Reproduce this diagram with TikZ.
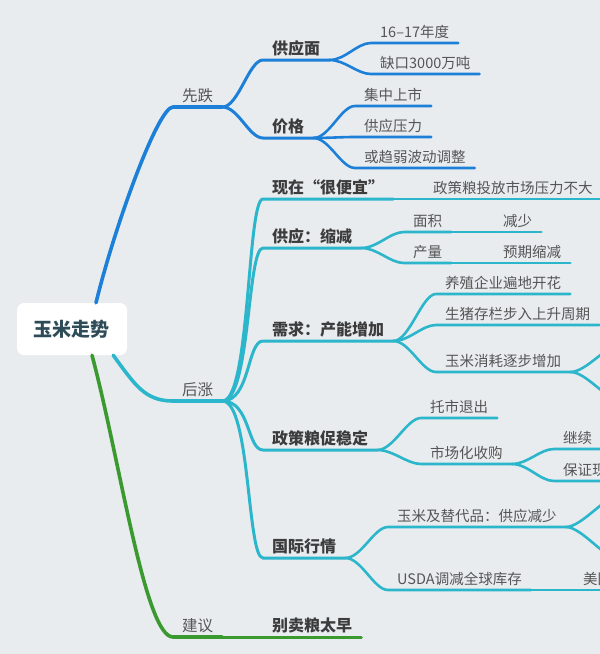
\documentclass[tikz,border=0pt]{standalone}
\usepackage{fontspec}
\setmainfont{Noto Sans CJK SC}
\usetikzlibrary{calc}

\definecolor{bgcol}{HTML}{E8ECEF}
\definecolor{bluebr}{HTML}{1D80D8}
\definecolor{cyanbr}{HTML}{2BB6CB}
\definecolor{greenbr}{HTML}{3B9A2F}
\definecolor{txtcol}{HTML}{555555}
\definecolor{boldcol}{HTML}{3C3C3C}
\definecolor{rootcol}{HTML}{2E4B58}

\tikzset{
  rootbox/.style={fill=white, rounded corners=7pt, minimum width=110pt,
    minimum height=52pt, text=rootcol, font=\fontsize{19}{19}\selectfont\bfseries},
  topic/.style={anchor=south west, inner xsep=9pt, inner ysep=4pt,
    text=txtcol, font=\fontsize{15.5}{16}\selectfont},
  sub/.style={topic, text=boldcol, font=\fontsize{16}{16}\selectfont\bfseries},
  leaf/.style={anchor=south west, inner xsep=9pt, inner ysep=4pt,
    text=txtcol, font=\fontsize{14.5}{15}\selectfont},
  trunk/.style={line width=3.6pt, line cap=round},
  lvone/.style={line width=3pt, line cap=round},
  lvtwo/.style={line width=2.6pt, line cap=round},
}

\begin{document}
\begin{tikzpicture}[x=1pt,y=-1pt]
\useasboundingbox (0,0) rectangle (600,654);
\fill[bgcol] (0,0) rectangle (600,654);
\clip (0,0) rectangle (600,654);

\node[rootbox] (root) at (72,329) {玉米走势};

% main branches
\node[topic] (xd) at (173,107) {先跌};
\node[topic] (hz) at (173,401) {后涨};
\node[topic] (jy) at (173,637) {建议};

\node[sub] (gym) at (263,60) {供应面};
\node[sub] (jg) at (263,138) {价格};
\node[sub] (xz) at (263,199) {现在“很便宜”};
\node[sub] (gs) at (263,248) {供应：缩减};
\node[sub] (xq) at (263,341) {需求：产能增加};
\node[sub] (zw) at (263,450) {政策粮促稳定};
\node[sub] (gj) at (263,558) {国际行情};
\node[sub] (bm) at (263,637) {别卖粮太早};

% leaves
\node[leaf] (nd) at (371,43) {16–17年度};
\node[leaf] (qk) at (371,74) {缺口3000万吨};
\node[leaf] (jz) at (355,106) {集中上市};
\node[leaf] (yl) at (355,137) {供应压力};
\node[leaf] (bd) at (355,168) {或趋弱波动调整};
\node[leaf] (zc) at (424,199) {政策粮投放市场压力不大};
\node[leaf] (mj) at (404,232) {面积};
\node[leaf] (js) at (494,232) {减少};
\node[leaf] (cl) at (404,263) {产量};
\node[leaf] (yq) at (494,263) {预期缩减};
\node[leaf] (yz) at (436,294) {养殖企业遍地开花};
\node[leaf] (sz) at (436,325) {生猪存栏步入上升周期};
\node[leaf] (xh) at (436,372) {玉米消耗逐步增加};
\node[leaf] (ts) at (421,418) {托市退出};
\node[leaf] (sc) at (421,464) {市场化收购};
\node[leaf] (jx) at (554,449) {继续};
\node[leaf] (bz) at (554,481) {保证现};
\node[leaf] (td) at (388,527) {玉米及替代品：供应减少};
\node[leaf] (usda) at (388,590) {USDA调减全球库存};
\node[leaf] (mg) at (574,590) {美国};

\coordinate (xh-a) at (620,345);
\coordinate (xh-b) at (620,400);
\coordinate (td-a) at (620,495);
\coordinate (td-b) at (620,560);

% trunks
\draw[bluebr,trunk] ([xshift=24]root.north) .. controls (115,225) and (158,107) .. (xd.south west) -- (xd.south east);
\draw[cyanbr,trunk] ([xshift=-14]root.south east) .. controls (135,385) and (145,401) .. (hz.south west) -- (hz.south east);
\draw[greenbr,trunk] ([xshift=20]root.south) .. controls (120,460) and (145,637) .. (jy.south west) -- (jy.south east);

\foreach \n in {gym,jg}
  \draw[bluebr,lvone] (xd.south east) .. controls +(16,0) and +(-14,0) .. (\n.south west) -- (\n.south east);
\foreach \n in {xz,gs,xq,zw,gj}
  \draw[cyanbr,lvone] (hz.south east) .. controls +(28,0) and +(-16,0) .. (\n.south west) -- (\n.south east);
\draw[greenbr,lvone] (jy.south east) -- (bm.south west) -- (bm.south east);

% second level
\foreach \n in {nd,qk}
  \draw[bluebr,lvtwo] (gym.south east) .. controls +(16,0) and +(-14,0) .. (\n.south west) -- (\n.south east);
\foreach \n in {jz,yl,bd}
  \draw[bluebr,lvtwo] (jg.south east) .. controls +(16,0) and +(-14,0) .. (\n.south west) -- (\n.south east);
\draw[cyanbr,lvtwo] (xz.south east) -- (zc.south west) -- (zc.south east);
\foreach \n in {mj,cl}
  \draw[cyanbr,lvtwo] (gs.south east) .. controls +(16,0) and +(-14,0) .. (\n.south west) -- (\n.south east);
\draw[cyanbr,lvtwo] (mj.south east) -- (js.south west) -- (js.south east);
\draw[cyanbr,lvtwo] (cl.south east) -- (yq.south west) -- (yq.south east);
\foreach \n in {yz,sz,xh}
  \draw[cyanbr,lvtwo] (xq.south east) .. controls +(16,0) and +(-14,0) .. (\n.south west) -- (\n.south east);
\foreach \n in {xh-a,xh-b}
  \draw[cyanbr,lvtwo] (xh.south east) .. controls +(16,0) and +(-14,0) .. (\n);
\foreach \n in {ts,sc}
  \draw[cyanbr,lvtwo] (zw.south east) .. controls +(16,0) and +(-14,0) .. (\n.south west) -- (\n.south east);
\foreach \n in {jx,bz}
  \draw[cyanbr,lvtwo] (sc.south east) .. controls +(16,0) and +(-14,0) .. (\n.south west) -- (\n.south east);
\foreach \n in {td,usda}
  \draw[cyanbr,lvtwo] (gj.south east) .. controls +(16,0) and +(-14,0) .. (\n.south west) -- (\n.south east);
\foreach \n in {td-a,td-b}
  \draw[cyanbr,lvtwo] (td.south east) .. controls +(16,0) and +(-14,0) .. (\n);
\draw[cyanbr,lvtwo] (usda.south east) -- (mg.south west) -- (mg.south east);
\end{tikzpicture}
\end{document}
